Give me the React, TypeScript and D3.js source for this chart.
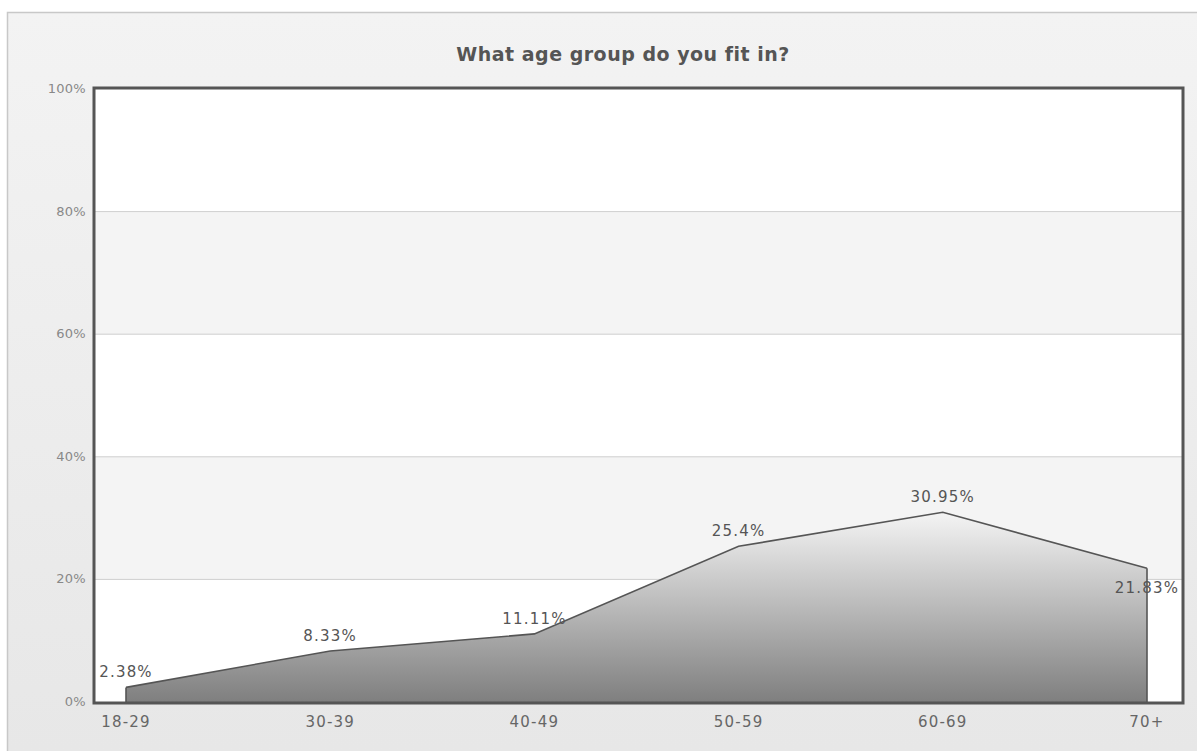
import React from "react";
import * as d3 from "d3";

const categories = ["18-29", "30-39", "40-49", "50-59", "60-69", "70+"];
const values = [2.38, 8.33, 11.11, 25.4, 30.95, 21.83];
const valueLabels = ["2.38%", "8.33%", "11.11%", "25.4%", "30.95%", "21.83%"];
const yTicks = [0, 20, 40, 60, 80, 100];
const title = "What age group do you fit in?";

const W = 1197;
const H = 751;
const plot = { left: 95, top: 89, right: 1182, bottom: 702 };

export default function App() {
  const x = d3.scalePoint<string>().domain(categories).range([126, 1147]);
  const y = d3.scaleLinear().domain([0, 100]).range([plot.bottom, plot.top]);

  const data = categories.map((c, i) => ({ c, v: values[i], label: valueLabels[i] }));
  const area = d3
    .area<{ c: string; v: number }>()
    .x((d) => x(d.c)!)
    .y0(y(0))
    .y1((d) => y(d.v));
  const line = d3
    .line<{ c: string; v: number }>()
    .x((d) => x(d.c)!)
    .y((d) => y(d.v));

  const bands = yTicks.slice(0, -1).map((t, i) => ({
    y0: y(t + 20),
    y1: y(t),
    fill: i % 2 === 1 ? "#f4f4f4" : "#ffffff",
  }));

  const font = "'DejaVu Sans', Verdana, sans-serif";

  return (
    <svg
      width={W}
      height={H}
      style={{ position: "absolute", left: 0, top: 0, background: "#fff" }}
    >
      <defs>
        <linearGradient id="bg" x1="0" y1="0" x2="0" y2="1">
          <stop offset="0" stopColor="#f3f3f3" />
          <stop offset="1" stopColor="#e6e6e6" />
        </linearGradient>
        <linearGradient id="areaFill" x1="0" y1="0" x2="0" y2="1">
          <stop offset="0" stopColor="#f4f4f4" />
          <stop offset="1" stopColor="#7f7f7f" />
        </linearGradient>
      </defs>
      <rect x={7.5} y={12.5} width={1300} height={800} fill="url(#bg)" stroke="#c8c8c8" strokeWidth={1.5} />
      <text
        x={623}
        y={61}
        textAnchor="middle"
        fontFamily={font}
        fontWeight="bold"
        fontSize={19}
        fill="#555"
        letterSpacing={0.5}
      >
        {title}
      </text>
      {bands.map((b, i) => (
        <rect key={i} x={plot.left} y={b.y0} width={plot.right - plot.left} height={b.y1 - b.y0} fill={b.fill} />
      ))}
      {yTicks.slice(1, -1).map((t) => (
        <line key={t} x1={plot.left} x2={plot.right} y1={y(t)} y2={y(t)} stroke="#cfcfcf" strokeWidth={1} />
      ))}
      <path d={area(data)!} fill="url(#areaFill)" />
      <path d={line(data)!} fill="none" stroke="#555" strokeWidth={1.6} />
      <line x1={x(categories[0])} x2={x(categories[0])} y1={y(values[0])} y2={y(0)} stroke="#555" strokeWidth={1.6} />
      <line
        x1={x(categories[categories.length - 1])}
        x2={x(categories[categories.length - 1])}
        y1={y(values[values.length - 1])}
        y2={y(0)}
        stroke="#555"
        strokeWidth={1.6}
      />
      <rect
        x={plot.left - 1}
        y={plot.top - 1}
        width={plot.right - plot.left + 2}
        height={plot.bottom - plot.top + 2}
        fill="none"
        stroke="#555"
        strokeWidth={3}
      />
      {yTicks.map((t) => (
        <text
          key={t}
          x={86}
          y={y(t) + 4}
          textAnchor="end"
          fontFamily={font}
          fontSize={13}
          fill="#888"
          letterSpacing={0.3}
        >
          {t}%
        </text>
      ))}
      {categories.map((c) => (
        <text
          key={c}
          x={x(c)}
          y={727}
          textAnchor="middle"
          fontFamily={font}
          fontSize={15}
          fill="#666"
          letterSpacing={1.2}
        >
          {c}
        </text>
      ))}
      {data.map((d, i) => {
        const below = i === data.length - 1;
        return (
          <text
            key={d.c}
            x={x(d.c)}
            y={below ? y(d.v) + 25 : y(d.v) - 10}
            textAnchor="middle"
            fontFamily={font}
            fontSize={15}
            fill="#555"
            letterSpacing={1.2}
          >
            {d.label}
          </text>
        );
      })}
    </svg>
  );
}
